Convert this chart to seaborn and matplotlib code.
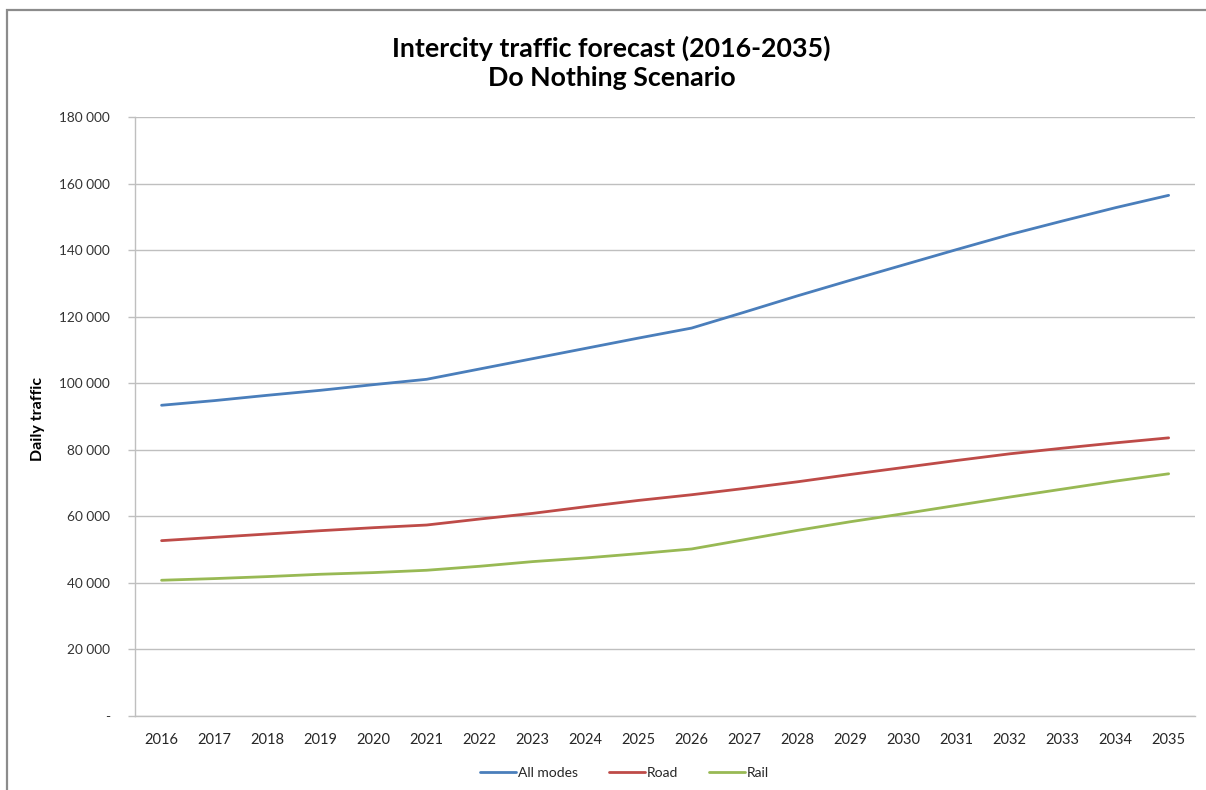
import matplotlib
matplotlib.use("Agg")
import matplotlib.pyplot as plt
from matplotlib.patches import Rectangle
from matplotlib.ticker import FuncFormatter, FixedLocator
import numpy as np
import pandas as pd
import seaborn as sns

# Forecast data (daily trips)
years = list(range(2016, 2036))
all_modes = [93400, 94800, 96400, 97900, 99600, 101200, 104300, 107400, 110500, 113600,
             116600, 121400, 126300, 131000, 135600, 140200, 144700, 148800, 152800, 156500]
road = [52700, 53700, 54700, 55700, 56600, 57400, 59200, 60900, 62900, 64800,
        66500, 68400, 70400, 72600, 74700, 76800, 78800, 80500, 82100, 83600]
rail = [40800, 41300, 41900, 42600, 43100, 43800, 45000, 46400, 47500, 48800,
        50200, 53000, 55800, 58400, 60800, 63300, 65800, 68200, 70600, 72800]
series_names = ["All modes", "Road", "Rail"]
y_ticks = list(range(0, 180001, 20000))

title = "Intercity traffic forecast (2016-2035)\nDo Nothing Scenario"
y_label = "Daily traffic"

sns.set_theme(style="white")
plt.rcParams["font.family"] = ["Lato", "DejaVu Sans"]

idx = np.arange(len(years))
df = pd.concat([
    pd.DataFrame({"pos": idx, "value": vals, "series": name})
    for name, vals in zip(series_names, [all_modes, road, rail])
], ignore_index=True)

palette = {"All modes": "#4A7EBB", "Road": "#BE4B48", "Rail": "#98B954"}

fig = plt.figure(figsize=(12.06, 7.90), dpi=100)
ax = fig.add_axes([0.112, 0.0937, 0.879, 0.758])

sns.lineplot(data=df, x="pos", y="value", hue="series", hue_order=series_names,
             palette=palette, linewidth=2.0, ax=ax, legend=True)

# Axes styling in the manner of a spreadsheet chart
ax.set_xlim(-0.5, len(years) - 0.5)
ax.set_ylim(0, 180000)
ax.set_yticks(y_ticks)
ax.yaxis.set_major_formatter(FuncFormatter(
    lambda v, p: "-" if v == 0 else f"{int(v):,}".replace(",", " ")))
ax.grid(axis="y", color="#BFBFBF", linewidth=1.0)
ax.grid(axis="x", visible=False)
ax.set_axisbelow(True)

ax.set_xticks(idx)
ax.set_xticklabels([str(y) for y in years])
ax.xaxis.set_minor_locator(FixedLocator(np.arange(-0.5, len(years), 1.0)))
ax.tick_params(axis="x", which="major", length=0, pad=12, labelsize=10.5, labelcolor="#262626")
ax.tick_params(axis="x", which="minor", length=5, width=1, color="#BFBFBF", direction="out")
ax.tick_params(axis="y", which="major", length=5, width=1, color="#BFBFBF", direction="out",
               pad=13, labelsize=9.8, labelcolor="#333333", left=True)

for side in ["top", "right"]:
    ax.spines[side].set_visible(False)
for side in ["left", "bottom"]:
    ax.spines[side].set_color("#BFBFBF")
    ax.spines[side].set_linewidth(1.0)

ax.set_xlabel("")
ax.set_ylabel("")
fig.text(0.0315, 0.47, y_label, rotation=90, ha="center", va="center",
         fontsize=11.5, fontweight="bold", color="#000000")

fig.text(0.507, 0.920, title, ha="center", va="center", fontsize=19.3,
         fontweight="bold", color="#000000", linespacing=1.25)

handles, labels = ax.get_legend_handles_labels()
ax.legend(handles, labels, loc="center", bbox_to_anchor=(0.518, 0.022),
          bbox_transform=fig.transFigure, ncol=3, frameon=False, fontsize=10,
          handlelength=2.6, handletextpad=0.15, columnspacing=2.2)

# Outer chart border
fig.patches.append(Rectangle((7 / 1206, -0.05), 1.2, 1 - 10 / 790 + 0.05,
                             transform=fig.transFigure, fill=False,
                             edgecolor="#8C8C8C", linewidth=1.6))

fig.savefig("out.png", dpi=100, facecolor="white")
